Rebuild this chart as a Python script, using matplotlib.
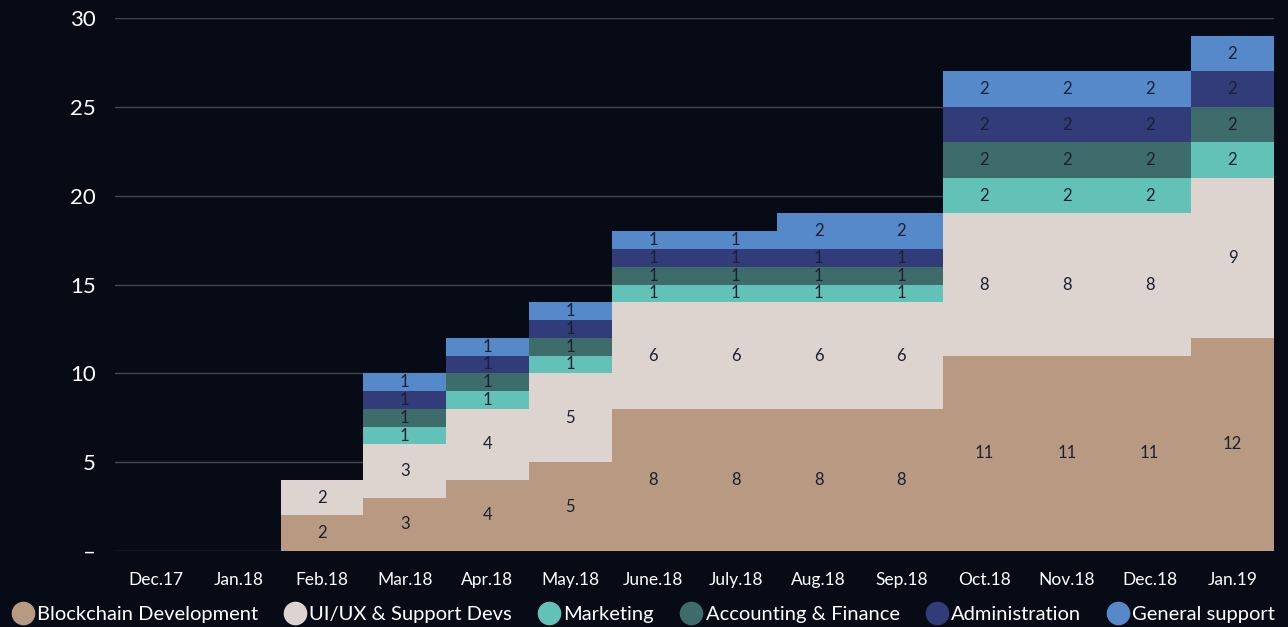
import numpy as np
import matplotlib.pyplot as plt
from matplotlib.lines import Line2D

months = ["Dec.17", "Jan.18", "Feb.18", "Mar.18", "Apr.18", "May.18", "June.18",
          "July.18", "Aug.18", "Sep.18", "Oct.18", "Nov.18", "Dec.18", "Jan.19"]
blockchain = [0, 0, 2, 3, 4, 5, 8, 8, 8, 8, 11, 11, 11, 12]
uiux = [0, 0, 2, 3, 4, 5, 6, 6, 6, 6, 8, 8, 8, 9]
marketing = [0, 0, 0, 1, 1, 1, 1, 1, 1, 1, 2, 2, 2, 2]
accounting = [0, 0, 0, 1, 1, 1, 1, 1, 1, 1, 2, 2, 2, 2]
administration = [0, 0, 0, 1, 1, 1, 1, 1, 1, 1, 2, 2, 2, 2]
general = [0, 0, 0, 1, 1, 1, 1, 1, 2, 2, 2, 2, 2, 2]

series = [
    ("Blockchain Development", blockchain, "#b89a82"),
    ("UI/UX & Support Devs", uiux, "#ddd3cf"),
    ("Marketing", marketing, "#63c2b8"),
    ("Accounting & Finance", accounting, "#3e6c6b"),
    ("Administration", administration, "#313c79"),
    ("General support", general, "#5689c9"),
]

bg = "#070b16"
plt.rcParams['font.family'] = ['Lato', 'DejaVu Sans']

fig = plt.figure(figsize=(12.88, 6.27), dpi=100, facecolor=bg)
ax = fig.add_axes([0.0893, 0.1212, 0.8997, 0.850])
ax.set_facecolor(bg)

x = np.arange(len(months))
bottom = np.zeros(len(months))
for name, vals, col in series:
    vals = np.array(vals)
    ax.bar(x, vals, width=1.0, bottom=bottom, color=col, linewidth=0, zorder=3)
    for i, v in enumerate(vals):
        if v > 0:
            ax.text(x[i], bottom[i] + v / 2, str(v), ha="center", va="center",
                    fontsize=12, color="#1c2030", zorder=4)
    bottom += vals

ax.set_xlim(-0.5, len(months) - 0.5)
ax.set_ylim(0, 30)
ax.set_yticks([0, 5, 10, 15, 20, 25, 30])
ax.set_yticklabels(["–", "5", "10", "15", "20", "25", "30"], color="white", fontsize=16)
ax.set_xticks(x)
ax.set_xticklabels(months, color="white", fontsize=12.5)
ax.tick_params(length=0, pad=15, axis="x")
ax.tick_params(length=0, pad=14, axis="y")
ax.grid(axis="y", color="#43464e", linewidth=1, zorder=0)
for s in ax.spines.values():
    s.set_visible(False)

handles = [Line2D([], [], marker="o", linestyle="", markersize=16,
                  markerfacecolor=col, markeredgecolor=col, label=name)
           for name, vals, col in series]
fig.legend(handles=handles, loc="lower center", bbox_to_anchor=(0.5, -0.022),
           ncol=6, frameon=False, fontsize=14.5, labelcolor="white",
           handletextpad=0.2, columnspacing=1.35, handlelength=1.0)

fig.savefig("out.png", dpi=100, facecolor=bg)
